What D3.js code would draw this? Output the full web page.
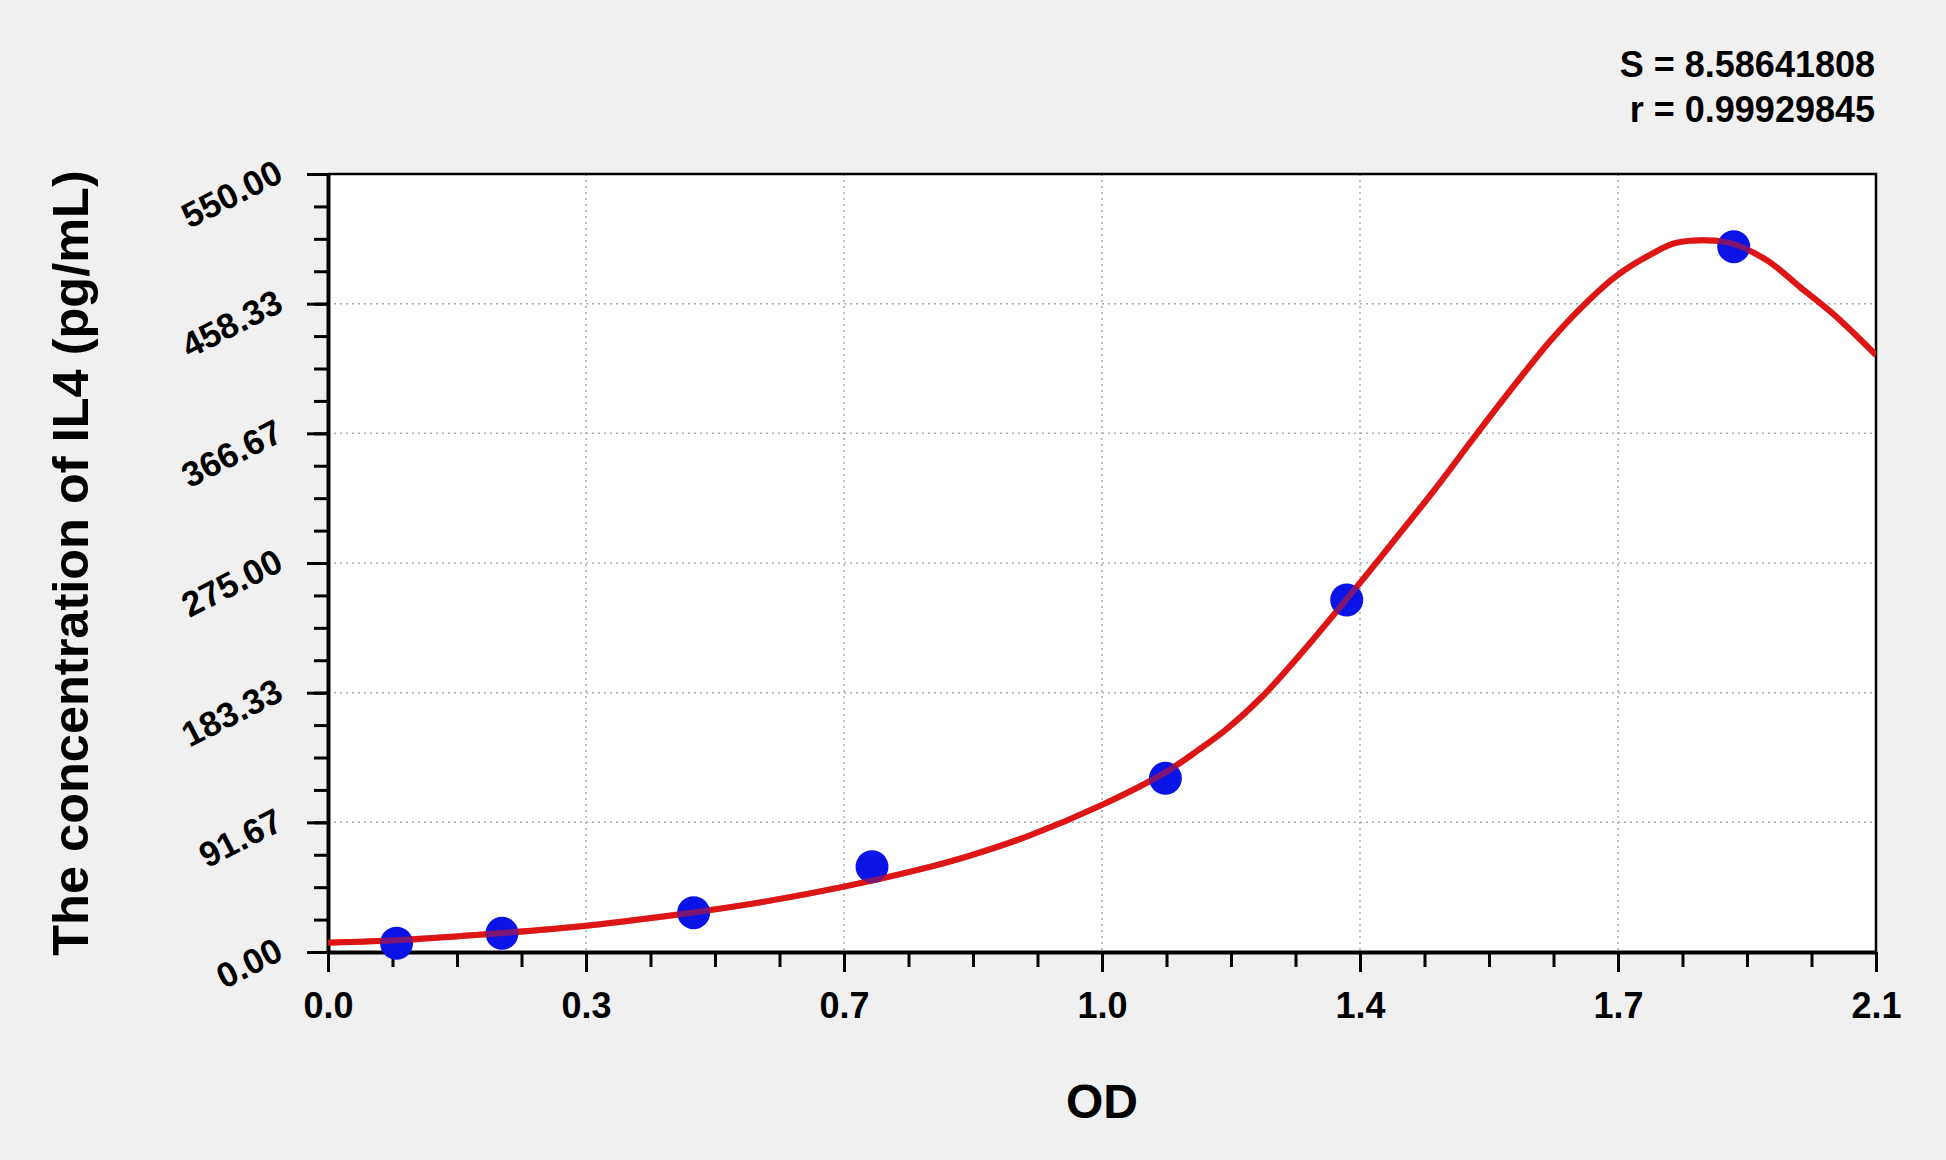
<!DOCTYPE html>
<html lang="en">
<head>
    <meta charset="UTF-8">
    <title>IL4 Standard Curve</title>
    <script src="https://d3js.org/d3.v7.min.js"></script>
    <style>
        body {
            margin: 0;
            background: #f0f0f0;
            font-family: "Liberation Sans", Arial, sans-serif;
        }
        text {
            font-weight: bold;
            fill: #000;
        }
    </style>
</head>
<body>
    <div class="chart"></div>

    <script>
        // Measured standards (OD, concentration)
        const pointOD = [0.093, 0.236, 0.496, 0.738, 1.136, 1.382, 1.907];
        const pointConc = [6.2, 13.2, 27.8, 60.3, 122.8, 248.9, 498.6];

        // Fitted curve
        const curveOD = [0.0, 0.1, 0.2, 0.35, 0.5, 0.6, 0.7, 0.8, 0.87, 0.95, 1.05, 1.136, 1.18, 1.22, 1.27, 1.32,
            1.40, 1.454, 1.50, 1.558, 1.613, 1.658, 1.703, 1.748, 1.794, 1.83, 1.90, 1.952, 1.997, 2.042, 2.1];
        const curveConc = [6.6, 8.5, 12.0, 18.6, 28.3, 36.3, 46.2, 58.0, 68.0, 82.0, 104.0, 127.0, 142.5, 158.0, 182.0, 211.0,
            261.0, 296.0, 326.0, 366.0, 403.0, 432.0, 457.0, 478.0, 493.0, 501.5, 501.5, 489.0, 470.0, 451.0, 422.0];

        // Axis ticks and labels
        const xTickValues = [0, 0.35, 0.7, 1.05, 1.4, 1.75, 2.1];
        const xTickLabels = ["0.0", "0.3", "0.7", "1.0", "1.4", "1.7", "2.1"];
        const yTickValues = [0, 91.6667, 183.3333, 275, 366.6667, 458.3333, 550];
        const yTickLabels = ["0.00", "91.67", "183.33", "275.00", "366.67", "458.33", "550.00"];
        const statLines = ["S = 8.58641808", "r = 0.99929845"];

        const W = 1946, H = 1160;
        const margin = { top: 174, right: 70, bottom: 208, left: 328 };
        const width = W - margin.left - margin.right;
        const height = H - margin.top - margin.bottom;

        const svg = d3.select(".chart")
            .append("svg")
            .attr("width", W)
            .attr("height", H)
            .style("display", "block");

        svg.append("rect")
            .attr("width", W)
            .attr("height", H)
            .attr("fill", "#f0f0f0");

        const g = svg.append("g")
            .attr("transform", `translate(${margin.left},${margin.top})`);

        const x = d3.scaleLinear().domain([0, 2.1]).range([0, width]);
        const y = d3.scaleLinear().domain([0, 550]).range([height, 0]);

        // plot background
        g.append("rect")
            .attr("width", width)
            .attr("height", height)
            .attr("fill", "#fff");

        // dotted grid
        g.append("g")
            .selectAll("line")
            .data(xTickValues.slice(1, -1))
            .join("line")
            .attr("x1", d => x(d)).attr("x2", d => x(d))
            .attr("y1", 0).attr("y2", height)
            .attr("stroke", "#aaa")
            .attr("stroke-width", 1.5)
            .attr("stroke-dasharray", "2,4");

        g.append("g")
            .selectAll("line")
            .data(yTickValues.slice(1, -1))
            .join("line")
            .attr("x1", 0).attr("x2", width)
            .attr("y1", d => y(d)).attr("y2", d => y(d))
            .attr("stroke", "#aaa")
            .attr("stroke-width", 1.5)
            .attr("stroke-dasharray", "2,4");

        // frame (top and right)
        g.append("path")
            .attr("d", `M0,0H${width}V${height}`)
            .attr("fill", "none")
            .attr("stroke", "#000")
            .attr("stroke-width", 2.5);

        // minor ticks
        const xMinor = d3.range(0, 2.1 + 1e-9, 0.0875);
        const yMinor = d3.range(0, 550 + 1e-9, 550 / 24);

        g.append("g")
            .attr("transform", `translate(0,${height})`)
            .call(d3.axisBottom(x).tickValues(xMinor).tickFormat("").tickSize(15).tickSizeOuter(0))
            .call(a => a.select(".domain").remove())
            .call(a => a.selectAll("line").attr("stroke-width", 3));

        g.append("g")
            .call(d3.axisLeft(y).tickValues(yMinor).tickFormat("").tickSize(14).tickSizeOuter(0))
            .call(a => a.select(".domain").remove())
            .call(a => a.selectAll("line").attr("stroke-width", 3));

        // major axes
        const xAxis = g.append("g")
            .attr("transform", `translate(0,${height})`)
            .call(d3.axisBottom(x).tickValues(xTickValues)
                .tickFormat((d, i) => xTickLabels[i]).tickSize(20).tickSizeOuter(0));
        xAxis.select(".domain").attr("stroke-width", 4);
        xAxis.selectAll("line").attr("stroke-width", 3);
        xAxis.selectAll("text")
            .attr("y", 66)
            .attr("dy", 0)
            .attr("font-size", 36)
            .attr("font-family", "'Liberation Sans', Arial, sans-serif");

        const yAxis = g.append("g")
            .call(d3.axisLeft(y).tickValues(yTickValues)
                .tickFormat((d, i) => yTickLabels[i]).tickSize(21).tickSizeOuter(0));
        yAxis.select(".domain").attr("stroke-width", 4);
        yAxis.selectAll("line").attr("stroke-width", 3);
        yAxis.selectAll("text")
            .attr("x", 0)
            .attr("dy", 0)
            .attr("text-anchor", "end")
            .attr("transform", "translate(-43,6) rotate(-27)")
            .attr("font-size", 35)
            .attr("font-family", "'Liberation Sans', Arial, sans-serif");

        // clip for the curve
        svg.append("clipPath")
            .attr("id", "plot-clip")
            .append("rect")
            .attr("width", width)
            .attr("height", height);

        const curveData = curveOD.map((d, i) => ({ od: d, conc: curveConc[i] }));
        const line = d3.line()
            .x(d => x(d.od))
            .y(d => y(d.conc))
            .curve(d3.curveCatmullRom.alpha(0.5));

        g.append("path")
            .datum(curveData)
            .attr("clip-path", "url(#plot-clip)")
            .attr("fill", "none")
            .attr("stroke", "#dd1515")
            .attr("stroke-width", 6)
            .attr("stroke-linejoin", "round")
            .attr("d", line);

        // standards
        const pointData = pointOD.map((d, i) => ({ od: d, conc: pointConc[i] }));
        g.append("g")
            .selectAll("circle")
            .data(pointData)
            .join("circle")
            .attr("cx", d => x(d.od))
            .attr("cy", d => y(d.conc))
            .attr("r", 16.5)
            .attr("fill", "#0a14e6");

        // curve over the points, as in the original
        g.append("path")
            .datum(curveData)
            .attr("clip-path", "url(#plot-clip)")
            .attr("fill", "none")
            .attr("stroke", "#dd1515")
            .attr("stroke-opacity", 0.55)
            .attr("stroke-width", 6)
            .attr("d", line);

        // axis titles
        svg.append("text")
            .attr("x", margin.left + width / 2)
            .attr("y", 1118)
            .attr("text-anchor", "middle")
            .attr("font-size", 48)
            .text("OD");

        svg.append("text")
            .attr("transform", `translate(88,${margin.top + height / 2}) rotate(-90)`)
            .attr("text-anchor", "middle")
            .attr("font-size", 50.5)
            .text("The concentration of IL4 (pg/mL)");

        // fit statistics
        svg.append("g")
            .selectAll("text")
            .data(statLines)
            .join("text")
            .attr("x", 1875)
            .attr("y", (d, i) => 77 + i * 45)
            .attr("text-anchor", "end")
            .attr("font-size", 36)
            .text(d => d);
    </script>
</body>
</html>
